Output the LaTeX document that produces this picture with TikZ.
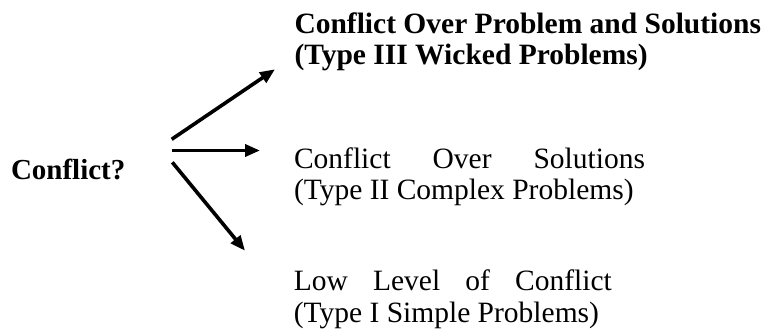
\documentclass[tikz,border=0pt]{standalone}
\usepackage{fontspec}
\setmainfont{Liberation Serif}
\usetikzlibrary{arrows.meta}
\tikzset{
  lbl/.style={anchor=base west, inner sep=0pt, outer sep=0pt,
    font=\fontsize{29.5}{31.5}\selectfont},
  arr/.style={line width=3.6pt, -{Triangle[length=15pt,width=12pt]}}
}
\begin{document}
\begin{tikzpicture}[x=1pt,y=-1pt]
\useasboundingbox[fill=white] (0,0) rectangle (768,331);
\node[lbl, font=\fontsize{29}{31}\selectfont\bfseries] (q) at (11,180) {Conflict?};
\node[lbl, font=\fontsize{29.5}{31.5}\selectfont\bfseries] (t3) at (294.5,33.3)
  {\vtop{\hbox{Conflict Over Problem and Solutions}\hbox{(Type III Wicked Problems)}}};
\node[lbl] (t2) at (294,168.3)
  {\vtop{\hbox to 351pt{Conflict\hfil Over\hfil Solutions}\hbox{(Type II Complex Problems)}}};
\node[lbl] (t1) at (293.8,290.7)
  {\vtop{\hbox to 318pt{Low\hfil Level\hfil of\hfil Conflict}\hbox{(Type I Simple Problems)}}};
\coordinate (s3) at (171.7,139.3);
\coordinate (e3) at (275,69.3);
\coordinate (s2) at (171.7,150.5);
\coordinate (e2) at (260,150.5);
\coordinate (s1) at (172.3,162.3);
\coordinate (e1) at (245,250.7);
\draw[arr] (s3) -- (e3);
\draw[arr] (s2) -- (e2);
\draw[arr] (s1) -- (e1);
\end{tikzpicture}
\end{document}
